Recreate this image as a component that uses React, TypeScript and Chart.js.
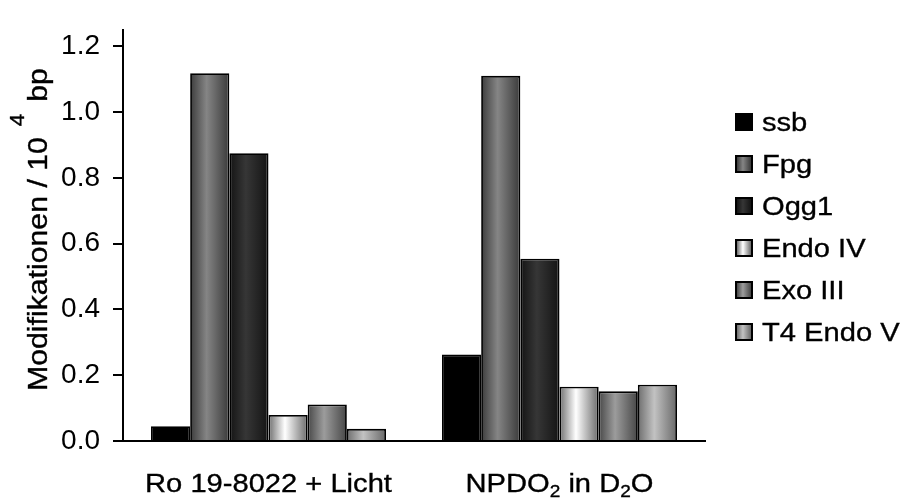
import React, { useEffect, useRef } from 'react';
import { Chart, registerables } from 'chart.js';

Chart.register(...registerables);

// ---- data ----
const categories = ['Ro 19-8022 + Licht', 'NPDO₂ in D₂O'];
const seriesLabels = ['ssb', 'Fpg', 'Ogg1', 'Endo IV', 'Exo III', 'T4 Endo V'];
const ssbValues = [0.045, 0.263];
const fpgValues = [1.118, 1.11];
const ogg1Values = [0.875, 0.554];
const endoIVValues = [0.079, 0.165];
const exoIIIValues = [0.111, 0.151];
const t4EndoVValues = [0.037, 0.171];
const yTickValues = [0, 0.2, 0.4, 0.6, 0.8, 1.0, 1.2];
const yAxisMax = 1.25;
const yTitleMain = 'Modifikationen / 10';
const yTitleSup = '4';
const yTitleUnit = 'bp';

// ---- styles ----
const FAMILY = '"Liberation Sans", Arial, Helvetica, sans-serif';
const SX = 1.12; // horizontal text stretch seen in the reference
const shades: string[][] = [
  ['#000000', '#000000', '#000000'],
  ['#3c3c3c', '#858585', '#3a3a3a'],
  ['#141414', '#363636', '#141414'],
  ['#6e6e6e', '#ffffff', '#6a6a6a'],
  ['#484848', '#9c9c9c', '#464646'],
  ['#6e6e6e', '#c2c2c2', '#686868'],
];
const SUBS = '₀₁₂₃₄₅₆₇₈₉';

function drawText(ctx: CanvasRenderingContext2D, text: string, x: number, y: number, size: number) {
  ctx.save();
  ctx.font = `${size}px ${FAMILY}`;
  ctx.translate(x, y);
  ctx.scale(SX, 1);
  ctx.fillText(text, 0, 0);
  ctx.lineWidth = 0.35;
  ctx.strokeStyle = '#000';
  ctx.strokeText(text, 0, 0);
  const w = ctx.measureText(text).width * SX;
  ctx.restore();
  return w;
}
function textWidth(ctx: CanvasRenderingContext2D, text: string, size: number) {
  ctx.save();
  ctx.font = `${size}px ${FAMILY}`;
  const w = ctx.measureText(text).width * SX;
  ctx.restore();
  return w;
}
function segments(label: string) {
  const segs: { t: string; sub: boolean }[] = [];
  for (const ch of label) {
    const idx = SUBS.indexOf(ch);
    const sub = idx >= 0;
    const t = sub ? String(idx) : ch;
    const last = segs[segs.length - 1];
    if (last && last.sub === sub) last.t += t;
    else segs.push({ t, sub });
  }
  return segs;
}

function makeGradient(ctx: CanvasRenderingContext2D, l: number, r: number, stops: string[]) {
  const g = ctx.createLinearGradient(l, 0, r, 0);
  g.addColorStop(0, stops[0]);
  g.addColorStop(0.42, stops[1]);
  g.addColorStop(1, stops[2]);
  return g;
}

const barGradientPlugin = {
  id: 'barGradient',
  beforeDatasetsDraw(chart: any) {
    const ctx = chart.ctx as CanvasRenderingContext2D;
    chart.data.datasets.forEach((_ds: any, di: number) => {
      const meta = chart.getDatasetMeta(di);
      meta.data.forEach((el: any) => {
        const l = el.x - el.width / 2;
        const r = el.x + el.width / 2;
        el.options = Object.assign({}, el.options, { backgroundColor: makeGradient(ctx, l, r, shades[di]) });
      });
    });
  },
};

const textPlugin = {
  id: 'overlayText',
  afterDraw(chart: any) {
    const ctx = chart.ctx as CanvasRenderingContext2D;
    ctx.save();
    ctx.fillStyle = '#000';
    ctx.textBaseline = 'alphabetic';
    ctx.textAlign = 'left';

    // x category labels (with subscripts)
    const xs = chart.scales.x;
    const mainSize = 26;
    const subSize = 17;
    chart.data.labels.forEach((lab: string, i: number) => {
      const segs = segments(lab);
      let total = 0;
      segs.forEach((s) => (total += textWidth(ctx, s.t, s.sub ? subSize : mainSize)));
      let x = xs.getPixelForValue(i) - total / 2;
      const base = 491.5;
      segs.forEach((s) => {
        x += drawText(ctx, s.t, x, s.sub ? base + 5 : base, s.sub ? subSize : mainSize);
      });
    });

    // y axis title (rotated, with superscript)
    ctx.save();
    ctx.translate(47, 391);
    ctx.rotate(-Math.PI / 2);
    const titleSize = 27;
    let tx = drawText(ctx, yTitleMain, 0, 0, titleSize);
    tx += 11;
    tx += drawText(ctx, yTitleSup, tx, -23, 20);
    tx += 12;
    drawText(ctx, yTitleUnit, tx, 0, titleSize);
    ctx.restore();

    // legend
    chart.data.datasets.forEach((ds: any, i: number) => {
      const top = 113 + i * 42;
      const left = 735;
      const size = 18;
      ctx.fillStyle = '#000';
      ctx.fillRect(left, top, size, size);
      ctx.fillStyle = makeGradient(ctx, left + 2, left + size - 2, shades[i]);
      ctx.fillRect(left + 2, top + 2, size - 4, size - 4);
      ctx.fillStyle = '#000';
      drawText(ctx, ds.label, 762, top + size, 26);
    });
    ctx.restore();
  },
};

export default function App() {
  const ref = useRef<HTMLCanvasElement | null>(null);
  useEffect(() => {
    if (!ref.current) return;
    const seriesValues = [ssbValues, fpgValues, ogg1Values, endoIVValues, exoIIIValues, t4EndoVValues];
    const chart = new Chart(ref.current, {
      type: 'bar',
      data: {
        labels: categories,
        datasets: seriesLabels.map((label, i) => ({
          label,
          data: seriesValues[i],
          backgroundColor: shades[i][1],
          borderColor: '#000',
          borderWidth: 1.8,
          categoryPercentage: 0.8076,
          barPercentage: 1,
        })),
      },
      options: {
        responsive: false,
        animation: false,
        events: [],
        layout: { padding: { top: 12, right: 196, bottom: 0, left: 0 } },
        plugins: { legend: { display: false }, tooltip: { enabled: false }, title: { display: false } },
        scales: {
          x: {
            type: 'category',
            grid: { display: false },
            border: { display: true, color: '#000', width: 2, z: 1 },
            ticks: { display: false },
            afterFit: (s: any) => {
              s.height = 61;
            },
          },
          y: {
            min: 0,
            max: yAxisMax,
            afterBuildTicks: (s: any) => {
              s.ticks = yTickValues.map((v) => ({ value: v }));
            },
            grid: { display: true, drawOnChartArea: false, drawTicks: true, tickLength: 10, color: '#000', lineWidth: 2 },
            border: { display: true, color: '#000', width: 2, z: 1 },
            ticks: {
              color: '#000',
              font: { family: FAMILY, size: 28 },
              padding: 13,
              callback: (v: any) => Number(v).toFixed(1),
            },
            afterFit: (s: any) => {
              s.width = 123;
            },
          },
        },
      } as any,
      plugins: [barGradientPlugin, textPlugin],
    });
    return () => chart.destroy();
  }, []);
  return (
    <div style={{ position: 'absolute', left: 0, top: 0, width: 901, height: 502, background: '#fff' }}>
      <canvas ref={ref} width={901} height={502} style={{ display: 'block' }} />
    </div>
  );
}
